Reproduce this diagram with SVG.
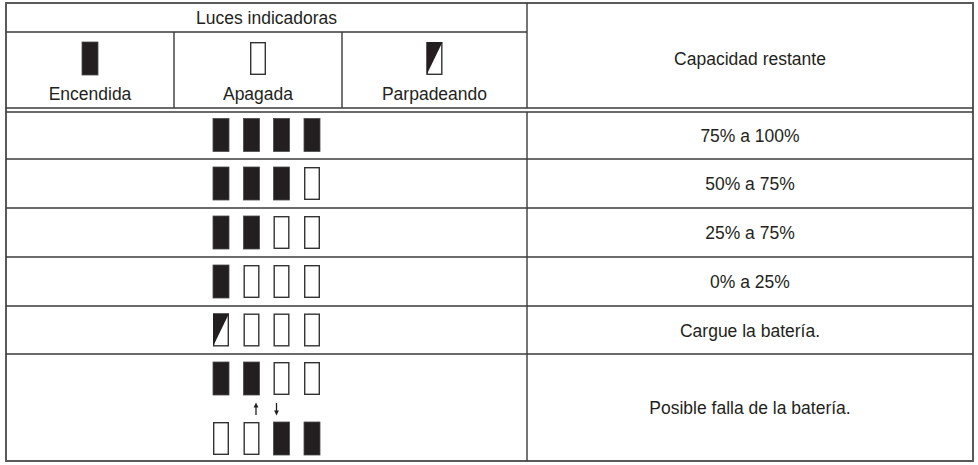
<svg xmlns="http://www.w3.org/2000/svg" width="978" height="465" viewBox="0 0 978 465">
<style>
.ln{stroke:#3a3a3a;stroke-width:1.4;fill:none}
.ob{stroke:#5a5a5a;stroke-width:2;fill:none}
.t{font-family:"Liberation Sans",Arial,sans-serif;font-size:17.5px;fill:#231f20;text-anchor:middle}
.on{fill:#231f20;stroke:#4a4a4a;stroke-width:0.8}
.off{fill:#fff;stroke:#333;stroke-width:1.4}
.ar{stroke:#231f20;stroke-width:1.3;fill:none}
</style>
<defs>
<rect id="on" class="on" x="0" y="0" width="16" height="33"/>
<rect id="off" class="off" x="0.7" y="0.7" width="14.6" height="31.6"/>
<g id="blink"><rect class="off" x="0.7" y="0.7" width="14.6" height="31.6"/><polygon points="0,0 16,0 0,33" fill="#231f20"/></g>
</defs>
<rect width="978" height="465" fill="#fff"/>
<g id="grid">
<rect class="ob" x="6" y="3" width="967" height="458"/>
<line class="ln" x1="527" y1="3" x2="527" y2="108"/>
<line class="ln" x1="527" y1="112" x2="527" y2="461"/>
<line class="ln" x1="6" y1="32" x2="527" y2="32"/>
<line class="ln" x1="174" y1="32" x2="174" y2="108"/>
<line class="ln" x1="342" y1="32" x2="342" y2="108"/>
<line class="ln" x1="6" y1="108" x2="973" y2="108"/>
<line class="ln" x1="6" y1="112" x2="973" y2="112"/>
<line class="ln" x1="6" y1="159" x2="973" y2="159"/>
<line class="ln" x1="6" y1="208" x2="973" y2="208"/>
<line class="ln" x1="6" y1="257" x2="973" y2="257"/>
<line class="ln" x1="6" y1="306" x2="973" y2="306"/>
<line class="ln" x1="6" y1="354" x2="973" y2="354"/>
</g>
<g id="header">
<text class="t" x="266.5" y="24">Luces indicadoras</text>
<use href="#on" x="82" y="42"/>
<text class="t" x="90" y="100">Encendida</text>
<use href="#off" x="250" y="42"/>
<text class="t" x="258" y="100">Apagada</text>
<use href="#blink" x="426.5" y="42"/>
<text class="t" x="434.5" y="100">Parpadeando</text>
<text class="t" x="750" y="65">Capacidad restante</text>
</g>
<g id="row1">
<use href="#on" x="213" y="118.5"/><use href="#on" x="243.5" y="118.5"/><use href="#on" x="273.5" y="118.5"/><use href="#on" x="304" y="118.5"/>
<text class="t" x="750" y="142">75% a 100%</text>
</g>
<g id="row2">
<use href="#on" x="213" y="167"/><use href="#on" x="243.5" y="167"/><use href="#on" x="273.5" y="167"/><use href="#off" x="304" y="167"/>
<text class="t" x="750" y="190">50% a 75%</text>
</g>
<g id="row3">
<use href="#on" x="213" y="216"/><use href="#on" x="243.5" y="216"/><use href="#off" x="273.5" y="216"/><use href="#off" x="304" y="216"/>
<text class="t" x="750" y="239">25% a 75%</text>
</g>
<g id="row4">
<use href="#on" x="213" y="265"/><use href="#off" x="243.5" y="265"/><use href="#off" x="273.5" y="265"/><use href="#off" x="304" y="265"/>
<text class="t" x="750" y="288">0% a 25%</text>
</g>
<g id="row5">
<use href="#blink" x="213" y="313.5"/><use href="#off" x="243.5" y="313.5"/><use href="#off" x="273.5" y="313.5"/><use href="#off" x="304" y="313.5"/>
<text class="t" x="750" y="336.5">Cargue la batería.</text>
</g>
<g id="row6">
<use href="#on" x="213" y="362"/><use href="#on" x="243.5" y="362"/><use href="#off" x="273.5" y="362"/><use href="#off" x="304" y="362"/>
<use href="#off" x="213" y="422"/><use href="#off" x="243.5" y="422"/><use href="#on" x="273.5" y="422"/><use href="#on" x="304" y="422"/>
<text class="t" x="750" y="414">Posible falla de la batería.</text>
</g>
<g id="connectors">
<line class="ar" x1="256" y1="415" x2="256" y2="406"/>
<polygon points="256,402.5 253.6,407.5 258.4,407.5" fill="#231f20"/>
<line class="ar" x1="276.5" y1="403" x2="276.5" y2="412"/>
<polygon points="276.5,415.5 274.1,410.5 278.9,410.5" fill="#231f20"/>
</g>
</svg>
